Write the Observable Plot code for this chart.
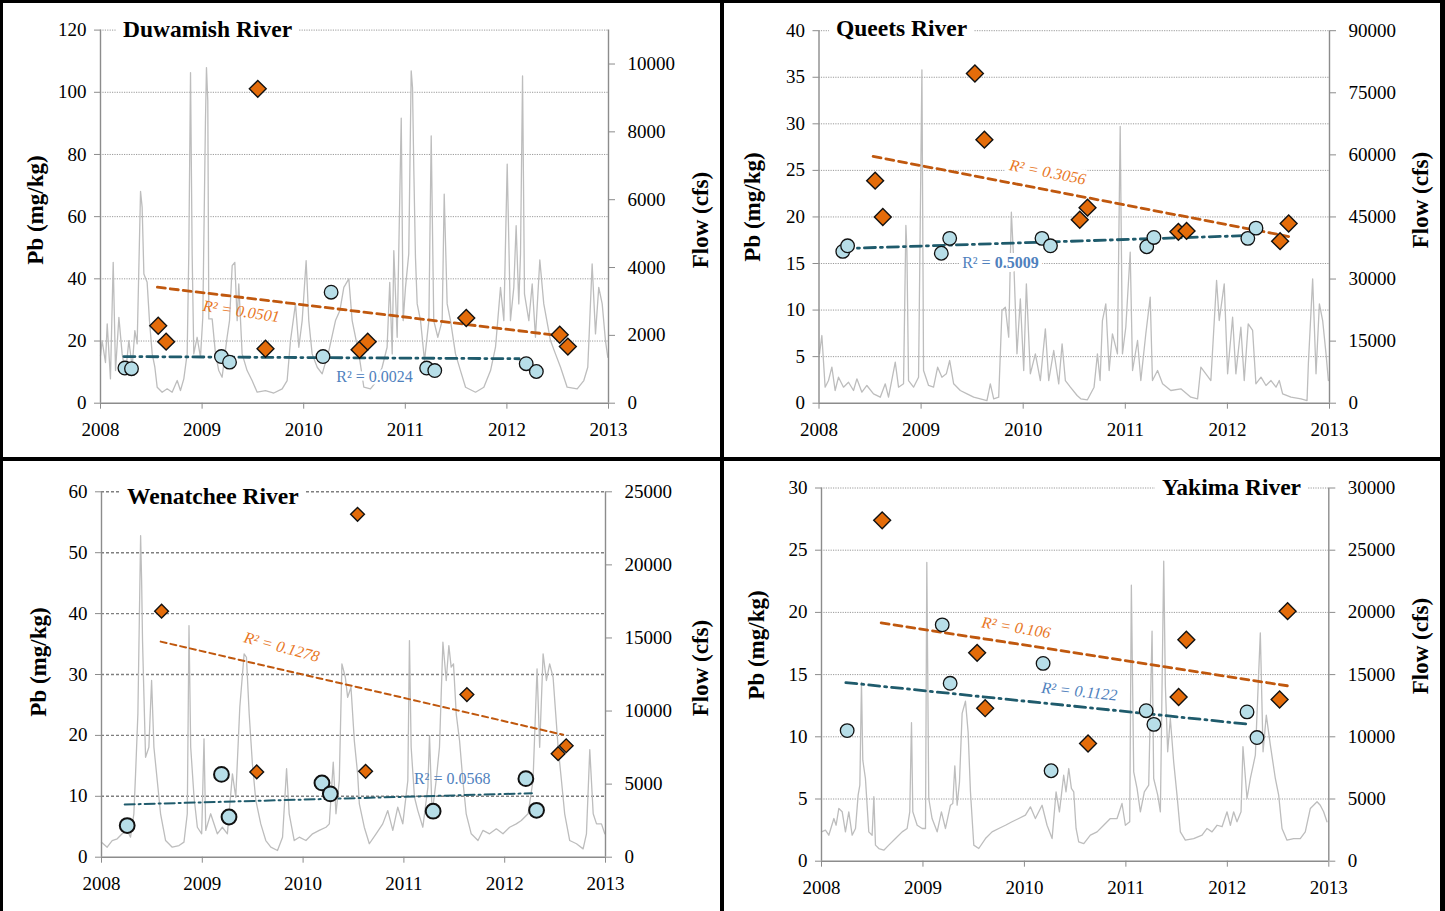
<!DOCTYPE html>
<html>
<head>
<meta charset="utf-8">
<script src="https://cdn.jsdelivr.net/npm/d3@7"></script>
<script src="https://cdn.jsdelivr.net/npm/@observablehq/plot@0.6"></script>
<style>
  body { margin: 0; background: #fff; }
  #wrap { position: relative; width: 1445px; height: 911px; overflow: hidden; background: #fff;
          font-family: "Liberation Serif", "Times New Roman", serif; color: #000; }
  .panel { position: absolute; }
  .title { position: absolute; background: #fff; font-weight: bold; font-size: 23.5px; line-height: 1;
           padding: 0 7px; white-space: nowrap; transform: translateY(-50%); }
  .ylab { position: absolute; font-weight: bold; font-size: 23px; line-height: 1; white-space: nowrap;
          transform: translate(-50%, -50%) rotate(-90deg); }
  .bar { position: absolute; background: #000; }
</style>
</head>
<body>
<div id="wrap"></div>
<script>
// ---------- shared ----------
const years = [2008, 2009, 2010, 2011, 2012, 2013];

// ---------- Duwamish River ----------
const duwamishPbTicks = [0, 20, 40, 60, 80, 100, 120];
const duwamishFlowTicks = [0, 2000, 4000, 6000, 8000, 10000];
const duwamishOrange = [[2008.568,24.9],[2008.646,19.8],[2009.548,101.1],[2009.624,17.5],[2010.55,17.2],[2010.63,19.8],[2011.6,27.4],[2012.52,22.0],[2012.6,18.2]];
const duwamishBlue = [[2008.24,11.3],[2008.305,11.1],[2009.19,15.0],[2009.27,13.2],[2010.19,15.0],[2010.27,35.7],[2011.21,11.3],[2011.29,10.5],[2012.19,12.7],[2012.29,10.2]];
const duwamishOrangeTrend = [[2008.56,37.3],[2012.6,21.4]];
const duwamishBlueTrend = [[2008.23,15.0],[2012.12,14.3]];
const duwamishFlow = [[2008.0,1400],[2008.016,1846],[2008.049,1200],[2008.066,2338],[2008.098,718],[2008.125,4153],[2008.148,962],[2008.181,2532],[2008.213,1454],[2008.246,866],[2008.279,1846],[2008.312,1060],[2008.338,2140],[2008.361,1750],[2008.394,6244],[2008.41,5772],[2008.427,3810],[2008.459,3563],[2008.482,2435],[2008.509,1454],[2008.535,1060],[2008.558,471],[2008.607,324],[2008.656,424],[2008.705,324],[2008.755,668],[2008.787,373],[2008.82,718],[2008.853,1454],[2008.869,4400],[2008.886,9748],[2008.902,4400],[2008.918,1454],[2008.951,1944],[2008.984,1355],[2009.007,2532],[2009.033,8325],[2009.043,9895],[2009.056,8914],[2009.066,2486],[2009.099,2486],[2009.132,1454],[2009.164,962],[2009.197,766],[2009.246,1944],[2009.27,2435],[2009.296,4055],[2009.322,4153],[2009.345,2435],[2009.361,3516],[2009.394,1454],[2009.443,962],[2009.492,668],[2009.542,324],[2009.624,373],[2009.706,300],[2009.788,424],[2009.837,668],[2009.87,1846],[2009.919,2928],[2009.952,1650],[2009.985,2435],[2010.024,4202],[2010.05,2435],[2010.083,1454],[2010.133,1060],[2010.182,866],[2010.248,1552],[2010.313,2435],[2010.356,2730],[2010.395,3416],[2010.444,3664],[2010.477,2435],[2010.543,1454],[2010.592,471],[2010.657,424],[2010.723,668],[2010.772,1060],[2010.821,1650],[2010.847,3563],[2010.871,1454],[2010.887,4497],[2010.92,1944],[2010.96,8405],[2010.979,2435],[2011.002,3416],[2011.034,4400],[2011.058,9798],[2011.071,9306],[2011.084,6853],[2011.1,4300],[2011.117,2928],[2011.15,2435],[2011.189,1257],[2011.232,2435],[2011.255,7884],[2011.28,2435],[2011.32,1944],[2011.363,2435],[2011.383,6167],[2011.412,2928],[2011.445,2435],[2011.494,1454],[2011.543,962],[2011.593,471],[2011.691,324],[2011.773,471],[2011.839,962],[2011.888,1650],[2011.937,3416],[2011.97,2435],[2012.003,7050],[2012.035,2435],[2012.068,3416],[2012.091,5233],[2012.117,2928],[2012.134,4400],[2012.154,9650],[2012.173,3222],[2012.216,2435],[2012.249,3516],[2012.281,1944],[2012.324,4223],[2012.363,2928],[2012.429,1846],[2012.478,1454],[2012.528,1060],[2012.593,471],[2012.692,424],[2012.757,668],[2012.796,1060],[2012.839,4105],[2012.872,2044],[2012.904,3416],[2012.938,2928],[2012.97,1846],[2012.993,1355]];

// ---------- Queets River ----------
const queetsPbTicks = [0, 5, 10, 15, 20, 25, 30, 35, 40];
const queetsFlowTicks = [0, 15000, 30000, 45000, 60000, 75000, 90000];
const queetsOrange = [[2008.55,23.9],[2008.625,20.0],[2009.527,35.4],[2009.62,28.3],[2010.554,19.7],[2010.63,21.0],[2011.52,18.4],[2011.6,18.5],[2012.516,17.4],[2012.6,19.3]];
const queetsBlue = [[2008.233,16.3],[2008.28,16.9],[2009.198,16.1],[2009.28,17.7],[2010.184,17.7],[2010.267,16.9],[2011.21,16.8],[2011.28,17.8],[2012.2,17.7],[2012.28,18.8]];
const queetsOrangeTrend = [[2008.53,26.5],[2012.6,17.9]];
const queetsBlueTrend = [[2008.22,16.6],[2012.2,18.0]];
const queetsFlow = [[2008.005,11930],[2008.028,16350],[2008.06,3870],[2008.093,5480],[2008.126,8700],[2008.158,3070],[2008.191,6280],[2008.24,3870],[2008.289,5070],[2008.338,3070],[2008.371,5890],[2008.42,2660],[2008.469,4280],[2008.534,2270],[2008.6,1450],[2008.649,4680],[2008.681,1450],[2008.747,9900],[2008.779,3870],[2008.828,4680],[2008.851,42930],[2008.861,36900],[2008.877,5480],[2008.926,3870],[2008.975,6280],[2009.008,80550],[2009.024,7900],[2009.073,4280],[2009.122,3870],[2009.162,8700],[2009.204,6280],[2009.247,7100],[2009.28,10310],[2009.319,4680],[2009.384,3070],[2009.45,2270],[2009.515,1450],[2009.58,1070],[2009.645,650],[2009.678,4680],[2009.711,1070],[2009.76,1450],[2009.792,22400],[2009.825,23190],[2009.858,15950],[2009.884,46150],[2009.907,34480],[2009.939,11930],[2009.972,25220],[2010.005,7900],[2010.031,28850],[2010.07,7100],[2010.119,11930],[2010.168,5480],[2010.217,17970],[2010.25,5480],[2010.299,12730],[2010.348,4680],[2010.381,14350],[2010.413,5480],[2010.462,3870],[2010.528,1860],[2010.564,1070],[2010.629,820],[2010.694,3870],[2010.727,11930],[2010.753,5480],[2010.776,19980],[2010.809,24010],[2010.842,7900],[2010.874,16770],[2010.923,11930],[2010.95,66850],[2010.972,11930],[2011.005,18360],[2011.048,36480],[2011.071,7900],[2011.12,15150],[2011.152,5480],[2011.201,16770],[2011.244,25610],[2011.266,5480],[2011.316,7900],[2011.365,4680],[2011.446,3070],[2011.544,3480],[2011.642,1450],[2011.708,1070],[2011.74,8700],[2011.789,7100],[2011.838,5480],[2011.894,29650],[2011.92,19980],[2011.969,28850],[2012.002,7100],[2012.051,20780],[2012.083,7100],[2012.132,18360],[2012.165,5480],[2012.204,19180],[2012.247,17570],[2012.279,4680],[2012.329,6280],[2012.378,4280],[2012.427,5480],[2012.476,3870],[2012.508,5480],[2012.541,2270],[2012.623,1450],[2012.721,1070],[2012.78,650],[2012.793,9520],[2012.835,30050],[2012.868,7100],[2012.901,24010],[2012.933,19980],[2012.966,11930],[2012.989,5480]];

// ---------- Wenatchee River ----------
const wenatcheePbTicks = [0, 10, 20, 30, 40, 50, 60];
const wenatcheeFlowTicks = [0, 5000, 10000, 15000, 20000, 25000];
const wenatcheeOrange = [[2008.596,40.4],[2009.54,14.0],[2010.54,56.3],[2010.62,14.1],[2011.625,26.7],[2012.53,17.0],[2012.61,18.3]];
const wenatcheeBlue = [[2008.255,5.2],[2009.19,13.6],[2009.265,6.6],[2010.187,12.2],[2010.27,10.4],[2011.29,7.55],[2012.21,12.9],[2012.316,7.7]];
const wenatcheeOrangeTrend = [[2008.587,35.4],[2012.58,20.1]];
const wenatcheeBlueTrend = [[2008.23,8.65],[2012.27,10.5]];
const wenatcheeFlow = [[2008.0,1030],[2008.056,684],[2008.106,1140],[2008.156,1260],[2008.205,1600],[2008.255,1830],[2008.288,1370],[2008.321,2970],[2008.338,5700],[2008.361,9810],[2008.388,22000],[2008.398,18930],[2008.407,14820],[2008.417,12090],[2008.437,6840],[2008.47,7520],[2008.497,12090],[2008.52,7520],[2008.553,5250],[2008.586,2970],[2008.636,1140],[2008.702,684],[2008.769,800],[2008.818,1030],[2008.851,2970],[2008.868,15850],[2008.885,7520],[2008.918,4100],[2008.951,2050],[2008.994,1600],[2009.017,8100],[2009.034,1830],[2009.083,2970],[2009.149,1600],[2009.199,2050],[2009.249,1600],[2009.299,5700],[2009.332,4100],[2009.372,10260],[2009.415,13910],[2009.438,13680],[2009.465,9810],[2009.497,6390],[2009.531,3880],[2009.58,2280],[2009.63,1140],[2009.68,684],[2009.746,460],[2009.796,1370],[2009.836,6050],[2009.862,2970],[2009.912,1140],[2009.962,1370],[2010.028,1140],[2010.094,1600],[2010.16,1830],[2010.227,2050],[2010.26,2280],[2010.299,6500],[2010.326,2970],[2010.359,5250],[2010.385,13230],[2010.419,12310],[2010.442,10940],[2010.475,11630],[2010.508,7980],[2010.541,5700],[2010.558,3650],[2010.607,2050],[2010.657,920],[2010.724,1600],[2010.79,2280],[2010.84,3190],[2010.89,1830],[2010.939,3420],[2010.989,2280],[2011.039,5250],[2011.055,14820],[2011.072,7520],[2011.105,4100],[2011.138,3190],[2011.188,2050],[2011.238,4790],[2011.254,8320],[2011.28,2970],[2011.32,5250],[2011.353,7520],[2011.387,14710],[2011.42,12090],[2011.446,14480],[2011.469,13000],[2011.492,13230],[2011.519,9810],[2011.552,7980],[2011.585,5250],[2011.618,2970],[2011.668,1600],[2011.735,1140],[2011.784,1830],[2011.85,1600],[2011.917,1940],[2011.983,1600],[2012.049,2050],[2012.115,2280],[2012.165,2510],[2012.232,2970],[2012.281,5250],[2012.321,12890],[2012.347,7520],[2012.381,13910],[2012.414,12090],[2012.446,13230],[2012.48,12310],[2012.506,9810],[2012.53,7520],[2012.563,5250],[2012.595,2970],[2012.645,1140],[2012.712,920],[2012.778,570],[2012.811,1600],[2012.844,7350],[2012.878,2970],[2012.911,2280],[2012.96,2280],[2012.993,1600]];

// ---------- Yakima River ----------
const yakimaPbTicks = [0, 5, 10, 15, 20, 25, 30];
const yakimaFlowTicks = [0, 5000, 10000, 15000, 20000, 25000, 30000];
const yakimaOrange = [[2008.598,27.4],[2009.534,16.75],[2009.613,12.3],[2010.627,9.46],[2011.52,13.2],[2011.596,17.8],[2012.515,13.0],[2012.594,20.1]];
const yakimaBlue = [[2008.253,10.5],[2009.19,19.0],[2009.268,14.3],[2010.184,15.9],[2010.263,7.27],[2011.2,12.1],[2011.276,11.0],[2012.194,12.0],[2012.292,9.94]];
const yakimaOrangeTrend = [[2008.588,19.16],[2012.594,14.1]];
const yakimaBlueTrend = [[2008.24,14.36],[2012.22,11.0]];
const yakimaFlow = [[2008.0,2360],[2008.039,2490],[2008.072,2090],[2008.122,3430],[2008.144,2890],[2008.171,4240],[2008.204,3970],[2008.236,2360],[2008.269,3970],[2008.302,2090],[2008.335,2630],[2008.361,5310],[2008.378,6110],[2008.394,14370],[2008.407,8120],[2008.433,6650],[2008.466,2360],[2008.499,2090],[2008.516,5180],[2008.532,1290],[2008.565,1020],[2008.614,885],[2008.663,1290],[2008.729,1820],[2008.795,2360],[2008.844,2630],[2008.87,3970],[2008.887,11130],[2008.9,3970],[2008.943,2890],[2008.992,2630],[2009.025,2630],[2009.038,24010],[2009.057,5040],[2009.09,3430],[2009.14,2360],[2009.182,3970],[2009.222,2630],[2009.271,4500],[2009.294,4640],[2009.314,7670],[2009.337,4500],[2009.36,6380],[2009.386,11880],[2009.419,12860],[2009.445,10400],[2009.468,5580],[2009.501,1290],[2009.55,1020],[2009.616,1820],[2009.681,2360],[2009.747,2630],[2009.813,2890],[2009.878,3170],[2009.944,3430],[2010.01,3700],[2010.059,4370],[2010.108,3430],[2010.174,4500],[2010.223,2890],[2010.273,1820],[2010.312,5580],[2010.345,3970],[2010.387,6910],[2010.41,5580],[2010.437,7450],[2010.463,5850],[2010.486,5580],[2010.509,2630],[2010.535,1560],[2010.585,1420],[2010.65,2090],[2010.716,2360],[2010.781,2890],[2010.847,3430],[2010.913,3430],[2010.962,4640],[2010.995,2890],[2011.038,3170],[2011.054,22190],[2011.077,7190],[2011.11,5850],[2011.143,3970],[2011.182,5580],[2011.225,6110],[2011.258,18490],[2011.274,6650],[2011.314,5310],[2011.34,3970],[2011.373,24120],[2011.389,14150],[2011.412,8800],[2011.438,11470],[2011.471,7990],[2011.504,5310],[2011.537,2360],[2011.586,1690],[2011.668,1820],[2011.751,2090],[2011.8,2630],[2011.849,2360],[2011.899,2890],[2011.948,2770],[2011.997,3970],[2012.03,2890],[2012.062,3970],[2012.095,3170],[2012.135,3970],[2012.154,9200],[2012.194,5040],[2012.227,6650],[2012.276,8520],[2012.325,18360],[2012.352,8800],[2012.384,11740],[2012.424,9330],[2012.473,6650],[2012.506,5310],[2012.539,2630],[2012.588,1690],[2012.654,1820],[2012.719,1820],[2012.768,2360],[2012.818,4240],[2012.884,4780],[2012.916,4500],[2012.949,3970],[2012.982,3170]];

// ---------- R² annotation texts ----------
const r2Texts = {
  duwamish: ["R² = 0.0501", "R² = 0.0024"],
  queets: ["R² = 0.3056", "R² =", "0.5009"],
  wenatchee: ["R² = 0.1278", "R² = 0.0568"],
  yakima: ["R² = 0.106", "R² = 0.1122"]
};

// ---------- colours ----------
const ORANGE_FILL = "#e46c0a", ORANGE_TREND = "#c0580e", ORANGE_TEXT = "#e8761e";
const BLUE_FILL = "#b7dee8", BLUE_TREND = "#1f5b6c", BLUE_TEXT = "#4f81bd";
const AXIS = "#8c8c8c", FLOW = "#bdbdbd";

function labelMark(x, y, text, o) {
  return Plot.text([{x, y, text}], Object.assign({
    x: "x", y: "y", text: "text", fontSize: 16, stroke: "white", strokeWidth: 5
  }, o));
}

function makePanel(c) {
  const k = c.yMax / c.flowMax;
  const marks = [
    Plot.gridY(c.yTicks.filter(v => v > 0), {stroke: c.gridColor, strokeOpacity: 1, strokeWidth: c.gridWidth, strokeDasharray: c.gridDash}),
    Plot.line(c.flow, {x: d => d[0], y: d => d[1] * k, stroke: FLOW, strokeWidth: 1.3}),
    Plot.ruleX([years[0]], {stroke: AXIS, strokeWidth: 1.4}),
    Plot.ruleX([years[years.length - 1]], {stroke: AXIS, strokeWidth: 1.4}),
    Plot.ruleY([0], {stroke: AXIS, strokeWidth: 1.4}),
    Plot.axisY(c.yTicks, {anchor: "left", tickSize: 6, tickPadding: 8, stroke: AXIS, fill: "#000", label: null}),
    Plot.axisY(c.flowTicks.map(f => f * k), {anchor: "right", tickSize: 6, tickPadding: 13, stroke: AXIS, fill: "#000", label: null,
      tickFormat: d => String(Math.round(d / k))}),
    Plot.axisX(years, {tickSize: 6, tickPadding: 13, stroke: AXIS, fill: "#000", label: null, tickFormat: d => String(d)}),
    Plot.line(c.orangeTrend, {x: d => d[0], y: d => d[1], stroke: ORANGE_TREND, strokeWidth: c.trendWidth, strokeDasharray: c.orangeDash}),
    Plot.line(c.blueTrend, {x: d => d[0], y: d => d[1], stroke: BLUE_TREND, strokeWidth: c.trendWidth, strokeDasharray: c.blueDash}),
    ...c.labels,
    Plot.dot(c.blue, {x: d => d[0], y: d => d[1], r: c.circleR, fill: BLUE_FILL, stroke: "#111", strokeWidth: c.circleStroke}),
    Plot.dot(c.orange, {x: d => d[0], y: d => d[1], symbol: "diamond2", r: c.diamondR, fill: ORANGE_FILL, stroke: "#111", strokeWidth: 1.4})
  ];
  const svg = Plot.plot({
    width: c.width, height: c.height,
    marginLeft: c.m[0], marginRight: c.m[1], marginTop: c.m[2], marginBottom: c.m[3],
    x: {type: "linear", domain: [years[0], years[years.length - 1]], axis: null},
    y: {domain: [0, c.yMax], axis: null},
    style: {fontFamily: '"Liberation Serif", "Times New Roman", serif', fontSize: "19px", background: "transparent", color: "#000", overflow: "visible"},
    marks
  });
  const div = document.createElement("div");
  div.className = "panel";
  div.style.left = c.left + "px";
  div.style.top = c.top + "px";
  div.appendChild(svg);
  return div;
}

const wrap = document.getElementById("wrap");

const panels = [
  {title: "Duwamish River", flow: duwamishFlow, orange: duwamishOrange, blue: duwamishBlue,
   orangeTrend: duwamishOrangeTrend, blueTrend: duwamishBlueTrend,
   yMax: 120, yTicks: duwamishPbTicks, flowMax: 11000, flowTicks: duwamishFlowTicks,
   left: 0, top: 0, width: 722, height: 459, m: [100, 114, 29.6, 56.3],
   gridColor: "#9a9a9a", gridWidth: 1, gridDash: "1.2,1.2",
   trendWidth: 2.8, orangeDash: "8,5", blueDash: "11,5,2,5",
   circleR: 6.8, circleStroke: 1.3, diamondR: 7.6,
   labels: [
     labelMark(2009.385, 29.5, r2Texts.duwamish[0], {fill: ORANGE_TEXT, fontStyle: "italic", rotate: 8.5, strokeWidth: 0}),
     labelMark(2010.697, 8.6, r2Texts.duwamish[1], {fill: BLUE_TEXT})
   ],
   titlePos: [116, 30], pbPos: [35, 210], flowPos: [700, 220]},
  {title: "Queets River", flow: queetsFlow, orange: queetsOrange, blue: queetsBlue,
   orangeTrend: queetsOrangeTrend, blueTrend: queetsBlueTrend,
   yMax: 40, yTicks: queetsPbTicks, flowMax: 90000, flowTicks: queetsFlowTicks,
   left: 722, top: 0, width: 723, height: 459, m: [96.5, 116, 30.2, 56.3],
   gridColor: "#9a9a9a", gridWidth: 1, gridDash: "1.2,1.2",
   trendWidth: 2.8, orangeDash: "8,5", blueDash: "11,5,2,5",
   circleR: 6.8, circleStroke: 1.3, diamondR: 7.6,
   labels: [
     labelMark(2010.24, 24.8, r2Texts.queets[0], {fill: ORANGE_TEXT, fontStyle: "italic", rotate: 11, strokeWidth: 8}),
     labelMark(2009.681, 15.04, r2Texts.queets[1], {fill: BLUE_TEXT, textAnchor: "end", strokeWidth: 8}),
     labelMark(2009.681, 15.04, r2Texts.queets[2], {fill: BLUE_TEXT, textAnchor: "start", dx: 4, fontWeight: "bold", strokeWidth: 8})
   ],
   titlePos: [829, 29], pbPos: [752, 207], flowPos: [1420, 200]},
  {title: "Wenatchee River", flow: wenatcheeFlow, orange: wenatcheeOrange, blue: wenatcheeBlue,
   orangeTrend: wenatcheeOrangeTrend, blueTrend: wenatcheeBlueTrend,
   yMax: 60, yTicks: wenatcheePbTicks, flowMax: 25000, flowTicks: wenatcheeFlowTicks,
   left: 0, top: 459, width: 722, height: 452, m: [101, 117, 32.3, 54.3],
   gridColor: "#7f7f7f", gridWidth: 1.4, gridDash: "3,2",
   trendWidth: 2, orangeDash: "6,4", blueDash: "10,4,2,4",
   circleR: 7.4, circleStroke: 2, diamondR: 6.2,
   labels: [
     labelMark(2009.787, 34.5, r2Texts.wenatchee[0], {fill: ORANGE_TEXT, fontStyle: "italic", rotate: 15, strokeWidth: 0}),
     labelMark(2011.479, 12.87, r2Texts.wenatchee[1], {fill: BLUE_TEXT, strokeWidth: 0})
   ],
   titlePos: [120, 497], pbPos: [38, 662], flowPos: [700, 668]},
  {title: "Yakima River", flow: yakimaFlow, orange: yakimaOrange, blue: yakimaBlue,
   orangeTrend: yakimaOrangeTrend, blueTrend: yakimaBlueTrend,
   yMax: 30, yTicks: yakimaPbTicks, flowMax: 30000, flowTicks: yakimaFlowTicks,
   left: 722, top: 459, width: 723, height: 452, m: [99, 116.7, 28.5, 50.3],
   gridColor: "#9a9a9a", gridWidth: 1, gridDash: "1.2,1.2",
   trendWidth: 2.8, orangeDash: "8,5", blueDash: "11,5,2,5",
   circleR: 6.8, circleStroke: 1.3, diamondR: 7.6,
   labels: [
     labelMark(2009.918, 18.77, r2Texts.yakima[0], {fill: ORANGE_TEXT, fontStyle: "italic", rotate: 9, strokeWidth: 6}),
     labelMark(2010.541, 13.64, r2Texts.yakima[1], {fill: BLUE_TEXT, fontStyle: "italic", rotate: 6, strokeWidth: 0})
   ],
   titlePos: [1155, 488], pbPos: [756, 645], flowPos: [1420, 646]}
];

for (const c of panels) {
  wrap.appendChild(makePanel(c));
  const t = document.createElement("div");
  t.className = "title";
  t.textContent = c.title;
  t.style.left = c.titlePos[0] + "px";
  t.style.top = c.titlePos[1] + "px";
  wrap.appendChild(t);
  const pb = document.createElement("div");
  pb.className = "ylab";
  pb.textContent = "Pb (mg/kg)";
  pb.style.left = c.pbPos[0] + "px";
  pb.style.top = c.pbPos[1] + "px";
  wrap.appendChild(pb);
  const fl = document.createElement("div");
  fl.className = "ylab";
  fl.textContent = "Flow (cfs)";
  fl.style.left = c.flowPos[0] + "px";
  fl.style.top = c.flowPos[1] + "px";
  wrap.appendChild(fl);
}

// panel frame lines
[[0, 0, 1445, 3], [0, 0, 3, 911], [1440, 0, 5, 911], [720, 0, 4, 911], [0, 457, 1445, 4]].forEach(([l, t, w, h]) => {
  const b = document.createElement("div");
  b.className = "bar";
  Object.assign(b.style, {left: l + "px", top: t + "px", width: w + "px", height: h + "px"});
  wrap.appendChild(b);
});
</script>
</body>
</html>
